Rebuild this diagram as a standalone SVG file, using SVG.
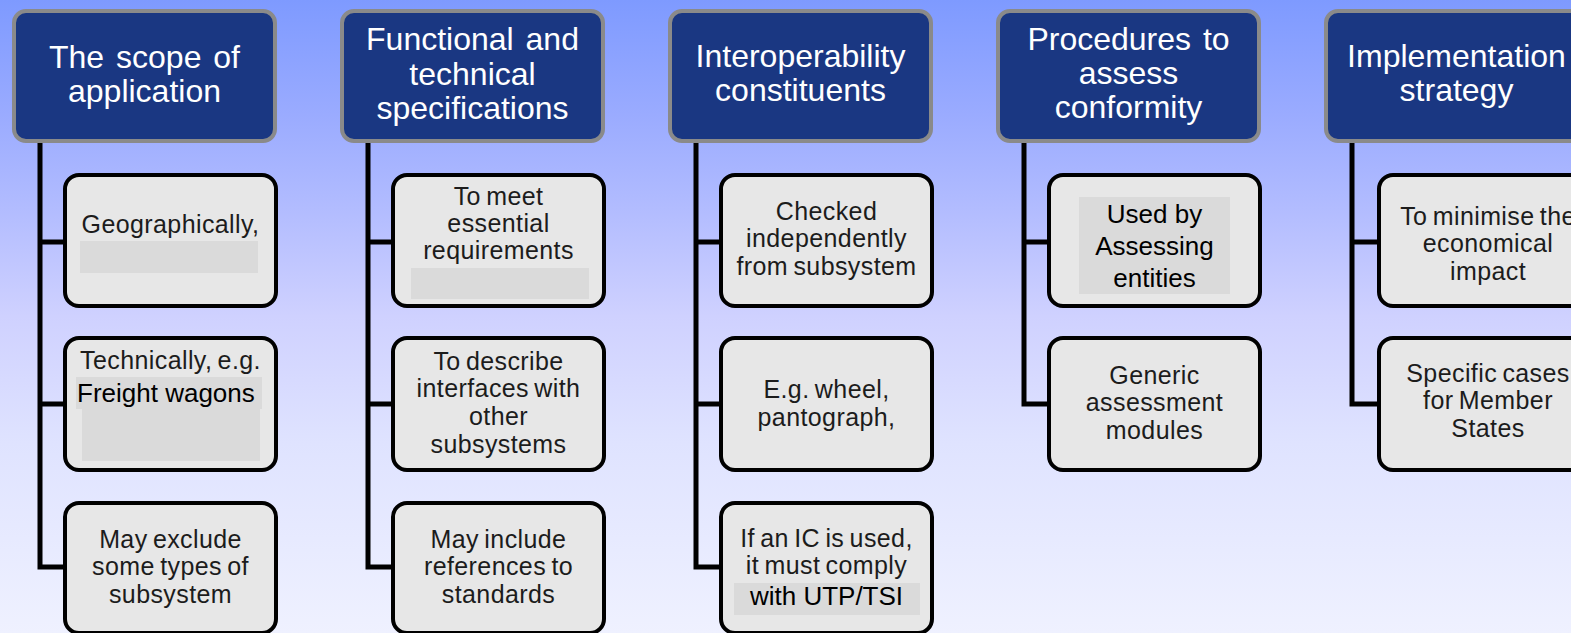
<svg xmlns="http://www.w3.org/2000/svg" width="1571" height="633" viewBox="0 0 1571 633">
  <defs>
    <linearGradient id="bg" x1="0" y1="0" x2="0" y2="1">
      <stop offset="0" stop-color="#7e9aff"/>
      <stop offset="0.18" stop-color="#9aabff"/>
      <stop offset="0.33" stop-color="#b2bcff"/>
      <stop offset="0.5" stop-color="#cfd1ff"/>
      <stop offset="0.7" stop-color="#dfe3ff"/>
      <stop offset="1" stop-color="#eff1ff"/>
    </linearGradient>
  </defs>
  <style>
    .head{fill:#1a3782;stroke:#8a8a8a;stroke-width:4}
    .box{fill:#e7e7e7;stroke:#000;stroke-width:4}
    .mask{fill:#dadada}
    .ht{font-family:"Liberation Sans",Arial,sans-serif;font-size:32px;fill:#fff;text-anchor:middle;word-spacing:3px}
    .bt{font-family:"Liberation Sans",Arial,sans-serif;font-size:25px;fill:#1c1c1c;text-anchor:middle;word-spacing:-2px;letter-spacing:0.4px}
    .dk{font-family:"Liberation Sans",Arial,sans-serif;font-size:26px;fill:#000}
    .wire{fill:none;stroke:#000;stroke-width:5}
  </style>

  <rect width="1571" height="633" fill="url(#bg)"/>

  <!-- connectors: trunk from each heading down to its items -->
  <g id="connectors" class="wire">
    <path d="M40 141V567H65M40 242H65M40 404H65"/>
    <path d="M368 141V567H393M368 242H393M368 404H393"/>
    <path d="M696 141V567H721M696 242H721M696 404H721"/>
    <path d="M1024 141V404H1049M1024 242H1049"/>
    <path d="M1352 141V404H1377M1352 242H1377"/>
  </g>

  <!-- column 1 -->
  <g id="col-scope">
    <g id="scope-head">
      <rect class="head" x="14" y="11" width="261" height="130" rx="12"/>
      <text class="ht" x="144.5" y="68">The scope of</text>
      <text class="ht" x="144.5" y="102">application</text>
    </g>
    <g id="scope-geo">
      <rect class="box" x="65" y="175" width="211" height="131" rx="14"/>
      <rect class="mask" x="80" y="241" width="178" height="32"/>
      <text class="bt" x="170.5" y="233">Geographically,</text>
    </g>
    <g id="scope-tech">
      <rect class="box" x="65" y="338" width="211" height="132" rx="14"/>
      <rect class="mask" x="76" y="377" width="186" height="32"/>
      <rect class="mask" x="82" y="409" width="178" height="52"/>
      <text class="bt" x="170.5" y="369">Technically, e.g.</text>
      <text class="dk" x="77" y="402">Freight wagons</text>
    </g>
    <g id="scope-excl">
      <rect class="box" x="65" y="503" width="211" height="130" rx="14"/>
      <text class="bt" x="170.5" y="548">May exclude</text>
      <text class="bt" x="170.5" y="575">some types of</text>
      <text class="bt" x="170.5" y="603">subsystem</text>
    </g>
  </g>

  <!-- column 2 -->
  <g id="col-spec" transform="translate(328,0)">
    <g id="spec-head">
      <rect class="head" x="14" y="11" width="261" height="130" rx="12"/>
      <text class="ht" x="144.5" y="50">Functional and</text>
      <text class="ht" x="144.5" y="85">technical</text>
      <text class="ht" x="144.5" y="119">specifications</text>
    </g>
    <g id="spec-req">
      <rect class="box" x="65" y="175" width="211" height="131" rx="14"/>
      <rect class="mask" x="83" y="268" width="178" height="31"/>
      <text class="bt" x="170.5" y="205">To meet</text>
      <text class="bt" x="170.5" y="232">essential</text>
      <text class="bt" x="170.5" y="259">requirements</text>
    </g>
    <g id="spec-if">
      <rect class="box" x="65" y="338" width="211" height="132" rx="14"/>
      <text class="bt" x="170.5" y="370">To describe</text>
      <text class="bt" x="170.5" y="397">interfaces with</text>
      <text class="bt" x="170.5" y="425">other</text>
      <text class="bt" x="170.5" y="453">subsystems</text>
    </g>
    <g id="spec-std">
      <rect class="box" x="65" y="503" width="211" height="130" rx="14"/>
      <text class="bt" x="170.5" y="548">May include</text>
      <text class="bt" x="170.5" y="575">references to</text>
      <text class="bt" x="170.5" y="603">standards</text>
    </g>
  </g>

  <!-- column 3 -->
  <g id="col-ic" transform="translate(656,0)">
    <g id="ic-head">
      <rect class="head" x="14" y="11" width="261" height="130" rx="12"/>
      <text class="ht" x="144.5" y="67">Interoperability</text>
      <text class="ht" x="144.5" y="101">constituents</text>
    </g>
    <g id="ic-check">
      <rect class="box" x="65" y="175" width="211" height="131" rx="14"/>
      <text class="bt" x="170.5" y="220">Checked</text>
      <text class="bt" x="170.5" y="247">independently</text>
      <text class="bt" x="170.5" y="275">from subsystem</text>
    </g>
    <g id="ic-eg">
      <rect class="box" x="65" y="338" width="211" height="132" rx="14"/>
      <text class="bt" x="170.5" y="398">E.g. wheel,</text>
      <text class="bt" x="170.5" y="426">pantograph,</text>
    </g>
    <g id="ic-comply">
      <rect class="box" x="65" y="503" width="211" height="130" rx="14"/>
      <rect class="mask" x="78" y="583" width="186" height="32"/>
      <text class="bt" x="170.5" y="547">If an IC is used,</text>
      <text class="bt" x="170.5" y="574">it must comply</text>
      <text class="dk" x="170.5" y="605" text-anchor="middle">with UTP/TSI</text>
    </g>
  </g>

  <!-- column 4 -->
  <g id="col-conf" transform="translate(984,0)">
    <g id="conf-head">
      <rect class="head" x="14" y="11" width="261" height="130" rx="12"/>
      <text class="ht" x="144.5" y="50">Procedures to</text>
      <text class="ht" x="144.5" y="84">assess</text>
      <text class="ht" x="144.5" y="118">conformity</text>
    </g>
    <g id="conf-used">
      <rect class="box" x="65" y="175" width="211" height="131" rx="14"/>
      <rect class="mask" x="95" y="197" width="151" height="97"/>
      <text class="dk" x="170.5" y="223" text-anchor="middle" font-size="27">Used by</text>
      <text class="dk" x="170.5" y="255" text-anchor="middle" font-size="27">Assessing</text>
      <text class="dk" x="170.5" y="287" text-anchor="middle" font-size="27">entities</text>
    </g>
    <g id="conf-mod">
      <rect class="box" x="65" y="338" width="211" height="132" rx="14"/>
      <text class="bt" x="170.5" y="384">Generic</text>
      <text class="bt" x="170.5" y="411">assessment</text>
      <text class="bt" x="170.5" y="439">modules</text>
    </g>
  </g>

  <!-- column 5 -->
  <g id="col-impl" transform="translate(1312,0)">
    <g id="impl-head">
      <rect class="head" x="14" y="11" width="261" height="130" rx="12"/>
      <text class="ht" x="144.5" y="67">Implementation</text>
      <text class="ht" x="144.5" y="101">strategy</text>
    </g>
    <g id="impl-econ">
      <rect class="box" x="67" y="175" width="220" height="131" rx="14"/>
      <text class="bt" x="176" y="225">To minimise the</text>
      <text class="bt" x="176" y="252">economical</text>
      <text class="bt" x="176" y="280">impact</text>
    </g>
    <g id="impl-ms">
      <rect class="box" x="67" y="338" width="220" height="132" rx="14"/>
      <text class="bt" x="176" y="382">Specific cases</text>
      <text class="bt" x="176" y="409">for Member</text>
      <text class="bt" x="176" y="437">States</text>
    </g>
  </g>
</svg>
